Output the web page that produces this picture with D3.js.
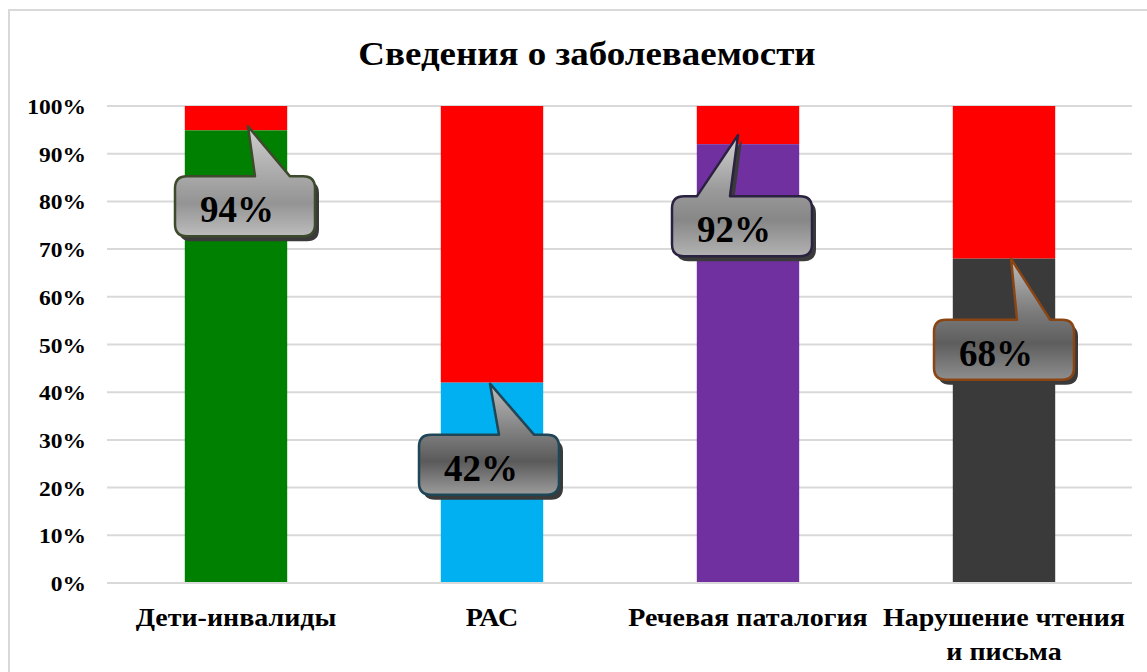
<!DOCTYPE html>
<html>
<head>
<meta charset="utf-8">
<script src="https://cdn.jsdelivr.net/npm/d3@7"></script>
<style>
  body { margin: 0; background: #fff; }
  text { font-family: "Liberation Serif", "Times New Roman", serif; font-weight: bold; }
</style>
</head>
<body>
<div id="chart"></div>
<script>
// Данные
const categories = ["Дети-инвалиды", "РАС", "Речевая паталогия", "Нарушение чтения и письма"];
const values = [94.9, 42, 92, 68];           // нижняя (цветная) часть столбца, %
const labels = ["94%", "42%", "92%", "68%"];   // подписи в выносках
const yTicks = [0, 10, 20, 30, 40, 50, 60, 70, 80, 90, 100];

// Оформление
const width = 1147;
const height = 672;
const barColors = ["#008000", "#00b0f0", "#7030a0", "#3a3a3a"];
const restColor = "#ff0000";
const stretch = 1.12; // шрифт в оригинале немного растянут по горизонтали

// Выноски: смещения относительно вершины столбца и цвета
const callouts = [
    { tipDx: 12, tipDy: -4, boxDx: -73, boxDy: 50, baseA: 7, baseB: 42, stroke: "#3d4a2c", g: ["#cfcfcf", "#a9a9a9", "#949494", "#bdbdbd"] },
    { tipDx: -2, tipDy: 1, boxDx: -71, boxDy: 51, baseA: 9, baseB: 44, stroke: "#1e4656", g: ["#bdbdbd", "#7d7d7d", "#5a5a5a", "#9c9c9c"] },
    { tipDx: -10, tipDy: -9, boxDx: -66, boxDy: 61, baseA: -41, baseB: -8, stroke: "#2b2140", g: ["#d3d3d3", "#9a9a9a", "#878787", "#b3b3b3"] },
    { tipDx: 7, tipDy: 0, boxDx: -77, boxDy: 61, baseA: 6, baseB: 39, stroke: "#8b4513", g: ["#bdbdbd", "#7a7a7a", "#5e5e5e", "#8e8e8e"] }
];
const boxW = 140, boxH = 60, r = 12;

const svg = d3.select("#chart")
    .append("svg")
    .attr("width", width)
    .attr("height", height);

// Рамка диаграммы
svg.append("rect")
    .attr("x", 9).attr("y", 10)
    .attr("width", 1160).attr("height", 700)
    .attr("fill", "none")
    .attr("stroke", "#d9d9d9")
    .attr("stroke-width", 2);

// Заголовок
svg.append("text")
    .attr("transform", `translate(587,65) scale(${stretch},1)`)
    .attr("text-anchor", "middle")
    .attr("font-size", "33px")
    .attr("fill", "#000")
    .text("Сведения о заболеваемости");

// Шкалы
const x = d3.scaleBand()
    .domain(categories)
    .range([108, 1132])
    .paddingInner(0.6)
    .paddingOuter(0.3);

const y = d3.scaleLinear()
    .domain([0, 100])
    .range([583, 106]);

// Сетка
svg.append("g")
    .selectAll("line")
    .data(yTicks)
    .enter()
    .append("line")
    .attr("x1", 107).attr("x2", 1132)
    .attr("y1", d => y(d)).attr("y2", d => y(d))
    .attr("stroke", "#d9d9d9")
    .attr("stroke-width", 2);

// Ось Y
const yAxis = svg.append("g")
    .attr("transform", "translate(86,0)")
    .call(d3.axisLeft(y).tickValues(yTicks).tickFormat(d => d + "%").tickSize(0).tickPadding(0));
yAxis.select(".domain").remove();
yAxis.selectAll("text")
    .attr("x", null)
    .attr("transform", `scale(${stretch},1)`)
    .attr("font-size", "21px")
    .attr("font-family", "Liberation Serif, serif")
    .attr("font-weight", "bold")
    .attr("fill", "#000")
    .attr("dy", "0.36em");

// Столбцы: красный остаток до 100%
svg.selectAll(".rest")
    .data(values)
    .enter()
    .append("rect")
    .attr("class", "rest")
    .attr("x", (d, i) => x(categories[i]))
    .attr("y", y(100))
    .attr("width", x.bandwidth())
    .attr("height", d => y(d) - y(100))
    .attr("fill", restColor);

svg.selectAll(".bar")
    .data(values)
    .enter()
    .append("rect")
    .attr("class", "bar")
    .attr("x", (d, i) => x(categories[i]))
    .attr("y", d => y(d))
    .attr("width", x.bandwidth())
    .attr("height", d => y(0) - y(d))
    .attr("fill", (d, i) => barColors[i]);

// Нулевая линия поверх столбцов
svg.append("line")
    .attr("x1", 107).attr("x2", 1132)
    .attr("y1", y(0)).attr("y2", y(0))
    .attr("stroke", "#d9d9d9")
    .attr("stroke-width", 2);

// Подписи категорий
const xAxis = svg.append("g")
    .attr("transform", `translate(0,${y(0)})`)
    .call(d3.axisBottom(x).tickSize(0).tickPadding(0).tickFormat(""));
xAxis.select(".domain").remove();
xAxis.selectAll(".tick").each(function (d) {
    const lines = d === "Нарушение чтения и письма" ? ["Нарушение чтения", "и письма"] : [d];
    const t = d3.select(this).append("text")
        .attr("transform", `scale(${stretch},1)`)
        .attr("text-anchor", "middle")
        .attr("font-size", "25px")
        .attr("fill", "#000");
    lines.forEach((s, k) => {
        t.append("tspan").attr("x", 0).attr("y", 43 + k * 34).text(s);
    });
});

// Выноски
const defs = svg.append("defs");
callouts.forEach((c, i) => {
    const gr = defs.append("linearGradient")
        .attr("id", "grad" + i)
        .attr("x1", 0).attr("y1", 0).attr("x2", 0).attr("y2", 1);
    [0, 0.45, 0.7, 1].forEach((o, k) => {
        gr.append("stop").attr("offset", o).attr("stop-color", c.g[k]);
    });
});

function calloutPath(tx, ty, c) {
    const x0 = tx + c.boxDx, y0 = ty + c.boxDy;
    const x1 = x0 + boxW, y1 = y0 + boxH;
    const p = d3.path();
    p.moveTo(x0 + r, y0);
    p.lineTo(tx + c.baseA, y0);
    p.lineTo(tx, ty);
    p.lineTo(tx + c.baseB, y0);
    p.lineTo(x1 - r, y0);
    p.quadraticCurveTo(x1, y0, x1, y0 + r);
    p.lineTo(x1, y1 - r);
    p.quadraticCurveTo(x1, y1, x1 - r, y1);
    p.lineTo(x0 + r, y1);
    p.quadraticCurveTo(x0, y1, x0, y1 - r);
    p.lineTo(x0, y0 + r);
    p.quadraticCurveTo(x0, y0, x0 + r, y0);
    p.closePath();
    return p.toString();
}

const cg = svg.selectAll(".callout")
    .data(values)
    .enter()
    .append("g")
    .attr("class", "callout");

cg.each(function (d, i) {
    const c = callouts[i];
    const tx = x(categories[i]) + x.bandwidth() / 2 + c.tipDx;
    const ty = y(d) + c.tipDy;
    const g = d3.select(this);
    g.append("path")
        .attr("d", calloutPath(tx, ty, c))
        .attr("transform", "translate(4,5)")
        .attr("fill", "#3a3a3a");
    g.append("path")
        .attr("d", calloutPath(tx, ty, c))
        .attr("fill", `url(#grad${i})`)
        .attr("stroke", c.stroke)
        .attr("stroke-width", 2.5)
        .attr("stroke-linejoin", "round");
    g.append("text")
        .attr("x", tx + c.boxDx + boxW / 2 - 8)
        .attr("y", ty + c.boxDy + boxH - 14)
        .attr("text-anchor", "middle")
        .attr("font-size", "37px")
        .attr("fill", "#000")
        .text(labels[i]);
});
</script>
</body>
</html>
